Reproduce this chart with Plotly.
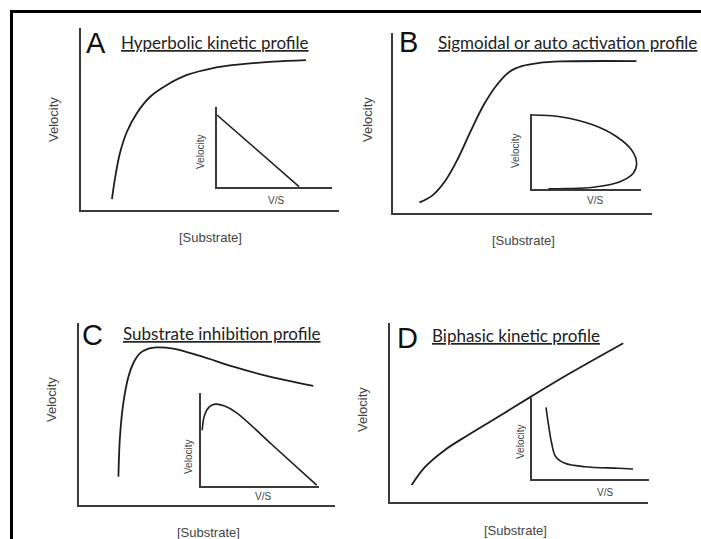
import plotly.graph_objects as go

W, H = 701, 539

# ---------------- data (arbitrary units 0-10) -------------
panel_letters = ["A", "B", "C", "D"]
panel_titles = ["Hyperbolic kinetic profile",
                "Sigmoidal or auto activation profile",
                "Substrate inhibition profile",
                "Biphasic kinetic profile"]
main_xlabel = "[Substrate]"
main_ylabel = "Velocity"
inset_xlabel = "V/S"
inset_ylabel = "Velocity"

a_sub = [1.20, 1.32, 1.51, 1.78, 2.17, 2.67, 3.33, 4.11, 5.12, 6.16, 7.44, 8.72]
a_vel = [0.60, 1.75, 3.13, 4.30, 5.33, 6.21, 6.87, 7.42, 7.80, 8.00, 8.15, 8.24]
a_ins_vs = [0.0, 7.13]
a_ins_vel = [9.0, 0.05]

b_sub = [1.02, 1.50, 2.00, 2.50, 3.00, 3.50, 4.00, 4.50, 5.00, 5.60, 6.50, 9.40]
b_vel = [0.59, 0.95, 1.75, 3.00, 4.55, 6.00, 7.10, 7.85, 8.17, 8.33, 8.42, 8.44]
b_ins_vs = [0.0, 2.57, 5.63, 7.77, 9.14, 9.60, 9.29, 8.07, 5.63, 3.18, 1.50]
b_ins_vel = [9.87, 9.64, 8.53, 6.97, 5.20, 3.43, 2.09, 0.97, 0.23, 0.05, 0.02]

c_sub = [1.54, 1.60, 1.73, 1.93, 2.12, 2.38, 2.71, 3.04, 3.68, 4.73, 6.03, 7.33, 9.15]
c_vel = [1.56, 3.75, 5.59, 7.05, 7.79, 8.33, 8.59, 8.66, 8.59, 8.19, 7.60, 7.09, 6.54]
c_ins_vs = [0.10, 0.30, 0.70, 1.20, 2.00, 3.00, 6.00, 9.80]
c_ins_vel = [6.00, 7.60, 8.50, 8.80, 8.60, 7.90, 4.46, 0.10]

d_sub = [0.84, 1.36, 2.13, 3.03, 4.31, 5.48, 6.89, 9.04]
d_vel = [0.95, 1.96, 2.91, 3.74, 4.86, 5.90, 7.12, 8.87]
d_ins_vs = [1.20, 1.39, 1.68, 2.03, 2.82, 4.53, 7.38, 8.63]
d_ins_vel = [8.85, 6.88, 4.41, 2.75, 1.94, 1.52, 1.33, 1.23]

series = [
    (a_sub, a_vel, a_ins_vs, a_ins_vel),
    (b_sub, b_vel, b_ins_vs, b_ins_vel),
    (c_sub, c_vel, c_ins_vs, c_ins_vel),
    (d_sub, d_vel, d_ins_vs, d_ins_vel),
]

# ---------------- layout geometry (pixel boxes: x0, x1, ytop, ybottom) ----------
main_boxes = [(81, 339, 28, 210), (393, 652, 33, 213), (79, 335, 323, 505), (390, 648, 323, 502)]
inset_boxes = [(217, 332, 107, 187), (532, 641, 114, 189), (201, 319, 393, 486), (532, 649, 398, 479)]
letter_pos = [(96, 43), (409, 42), (92, 335), (407, 338)]
title_pos = [(119, 43), (436, 42), (121, 333), (430, 335)]
main_ylab_pos = [(53, 120), (367, 120), (52, 400), (362, 410)]
main_xlab_pos = [(210, 237), (523, 240), (208, 532), (515, 530)]
ins_ylab_pos = [(200, 152), (515, 151), (188, 457), (520, 442)]
ins_xlab_pos = [(276, 200), (595, 200), (263, 496), (605, 492)]


def px(x):
    return x / W


def py(y):
    return 1 - y / H


fig = go.Figure()
layout_axes = {}
annotations = []
curve_color = "#1e1e1e"
axis_color = "#3a3a3a"
label_color = "#444444"

k = 0
for i in range(4):
    xs, ys, ixs, iys = series[i]
    for j, (box, xd, yd, lw, alw) in enumerate([
        (main_boxes[i], xs, ys, 1.8, 2.0),
        (inset_boxes[i], ixs, iys, 1.6, 1.6),
    ]):
        k += 1
        sfx = "" if k == 1 else str(k)
        x0, x1, yt, yb = box
        layout_axes["xaxis" + sfx] = dict(
            domain=[px(x0), px(x1)], range=[0, 10], anchor="y" + sfx,
            showline=True, linecolor=axis_color, linewidth=alw,
            showgrid=False, zeroline=False, showticklabels=False, ticks="",
            fixedrange=True)
        layout_axes["yaxis" + sfx] = dict(
            domain=[py(yb), py(yt)], range=[0, 10], anchor="x" + sfx,
            showline=True, linecolor=axis_color, linewidth=alw,
            showgrid=False, zeroline=False, showticklabels=False, ticks="",
            fixedrange=True)
        fig.add_trace(go.Scatter(
            x=xd, y=yd, mode="lines", xaxis="x" + sfx, yaxis="y" + sfx,
            line=dict(color=curve_color, width=lw, shape="spline", smoothing=1.0),
            showlegend=False, hoverinfo="skip"))

    lx, ly = letter_pos[i]
    annotations.append(dict(x=px(lx), y=py(ly), xref="paper", yref="paper",
                            text=panel_letters[i], showarrow=False,
                            xanchor="center", yanchor="middle",
                            font=dict(family="Liberation Sans, Arial", size=29, color="#111111")))
    tx, ty = title_pos[i]
    annotations.append(dict(x=px(tx), y=py(ty), xref="paper", yref="paper",
                            text='<span style="text-decoration:underline">' + panel_titles[i] + '</span>',
                            showarrow=False, xanchor="left", yanchor="middle",
                            font=dict(family="Lato", size=17, color="#222222")))
    vx, vy = main_ylab_pos[i]
    annotations.append(dict(x=px(vx), y=py(vy), xref="paper", yref="paper",
                            text=main_ylabel, showarrow=False, textangle=-90,
                            xanchor="center", yanchor="middle",
                            font=dict(family="Liberation Sans, Arial", size=13, color=label_color)))
    sx, sy = main_xlab_pos[i]
    annotations.append(dict(x=px(sx), y=py(sy), xref="paper", yref="paper",
                            text=main_xlabel, showarrow=False,
                            xanchor="center", yanchor="middle",
                            font=dict(family="Liberation Sans, Arial", size=13, color=label_color)))
    ivx, ivy = ins_ylab_pos[i]
    annotations.append(dict(x=px(ivx), y=py(ivy), xref="paper", yref="paper",
                            text=inset_ylabel, showarrow=False, textangle=-90,
                            xanchor="center", yanchor="middle",
                            font=dict(family="Liberation Sans, Arial", size=10, color=label_color)))
    isx, isy = ins_xlab_pos[i]
    annotations.append(dict(x=px(isx), y=py(isy), xref="paper", yref="paper",
                            text=inset_xlabel, showarrow=False,
                            xanchor="center", yanchor="middle",
                            font=dict(family="Liberation Sans, Arial", size=10, color=label_color)))

shapes = [
    dict(type="line", xref="paper", yref="paper", x0=px(11.5), x1=px(11.5), y0=py(10), y1=0,
         line=dict(color="black", width=3)),
    dict(type="line", xref="paper", yref="paper", x0=px(10), x1=1, y0=py(11.5), y1=py(11.5),
         line=dict(color="black", width=3)),
]

fig.update_layout(
    width=W, height=H,
    margin=dict(l=0, r=0, t=0, b=0),
    paper_bgcolor="white", plot_bgcolor="rgba(0,0,0,0)",
    showlegend=False,
    annotations=annotations,
    shapes=shapes,
    **layout_axes,
)

fig.write_html("out.html", config={"displayModeBar": False})
